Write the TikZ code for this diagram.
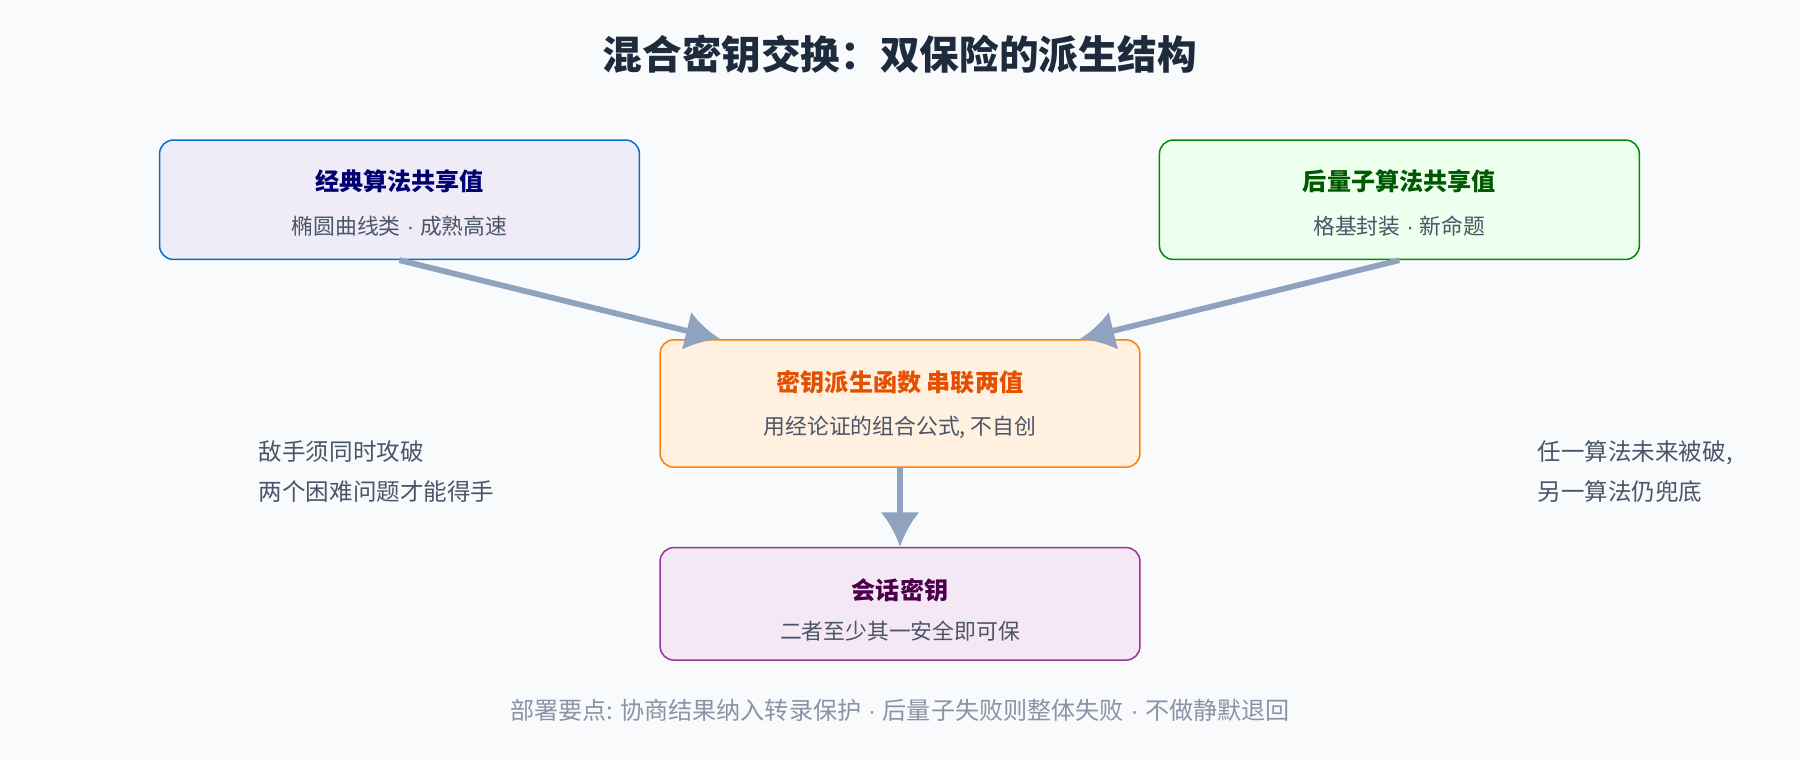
\documentclass[tikz,border=0pt]{standalone}
\usepackage{fontspec}
\setmainfont{Noto Sans CJK SC}
\newfontfamily\latinfont{Liberation Sans}
\newcommand{\sepdot}{{\latinfont\ ·\ }}
\usetikzlibrary{positioning, arrows.meta}
\definecolor{bgc}{HTML}{F8FAFC}
\definecolor{arrowc}{HTML}{8FA3BF}
\definecolor{subc}{HTML}{4A5568}
\definecolor{footc}{HTML}{8A94A6}
\definecolor{titlec}{HTML}{1E2B3C}

\tikzset{
    box/.style={draw, line width=1.3pt, rounded corners=12pt, minimum width=418pt, align=center},
    head/.style={font=\fontsize{21}{25}\selectfont\bfseries},
    sub/.style={font=\fontsize{19}{22}\selectfont, text=subc},
    link/.style={-{Latex[length=30pt,width=34pt]}, line width=5pt, draw=arrowc},
    note/.style={font=\fontsize{20.5}{35}\selectfont, text=subc, align=left, anchor=west}
}

\begin{document}
\begin{tikzpicture}[x=1pt, y=-1pt]
    \fill [bgc] (0,0) rectangle (1568,662);
    \useasboundingbox (0,0) rectangle (1568,662);

    % Title
    \node [font=\fontsize{34.5}{40}\selectfont\bfseries, text=titlec] (title) at (784,47) {混合密钥交换：双保险的派生结构};

    % Boxes
    \node [box, minimum height=104pt, fill=cyan!8!blue!6, draw=blue!45!cyan!80!black] (classic) at (348,174) {};
    \node [head, text=blue!45!black] at (348,158) {经典算法共享值};
    \node [sub] at (348,197) {椭圆曲线类\sepdot 成熟高速};

    \node [box, minimum height=104pt, fill=green!7, draw=green!55!black] (pq) at (1219,174) {};
    \node [head, text=green!35!black] at (1219,158) {后量子算法共享值};
    \node [sub] at (1219,197) {格基封装\sepdot 新命题};

    \node [box, minimum height=111pt, fill=orange!12, draw=orange] (kdf) at (784,351.5) {};
    \node [head, text=orange!70!red!90!black] at (784,333) {密钥派生函数 串联两值};
    \node [sub] at (784,372) {用经论证的组合公式, 不自创};

    \node [box, minimum height=98pt, fill=violet!9, draw=violet!80] (session) at (784,526) {};
    \node [head, text=violet!60!black] at (784,514) {会话密钥};
    \node [sub] at (784,550) {二者至少其一安全即可保};

    % Connections
    \draw [link] (classic.south) -- ([xshift=53pt]kdf.north west);
    \draw [link] (pq.south) -- ([xshift=-53pt]kdf.north east);
    \draw [link] (kdf.south) -- (session.north);

    % Notes
    \node [note] (left_note) at (222,411) {敌手须同时攻破\\两个困难问题才能得手};
    \node [note] (right_note) at (1336,411) {任一算法未来被破,\\另一算法仍兜底};
    \node [font=\fontsize{21}{24}\selectfont, text=footc] (foot) at (784,619) {部署要点: 协商结果纳入转录保护\sepdot 后量子失败则整体失败\sepdot 不做静默退回};
\end{tikzpicture}
\end{document}
